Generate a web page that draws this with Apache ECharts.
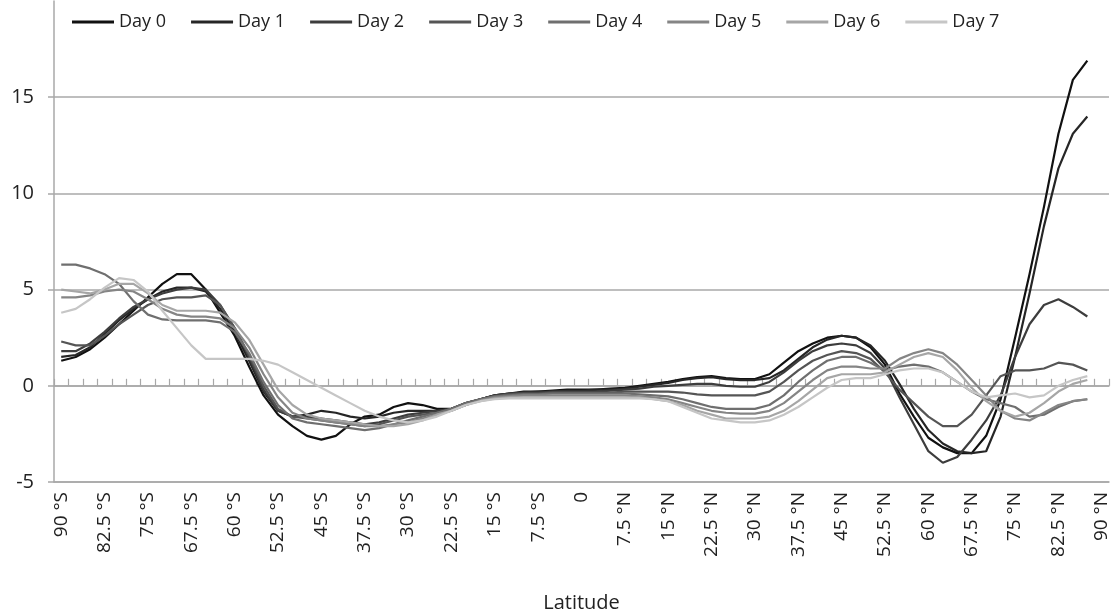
<!DOCTYPE html>
<html>
<head>
<meta charset="utf-8">
<script src="https://cdn.jsdelivr.net/npm/echarts@6/dist/echarts.min.js"></script>
<style>
html,body{margin:0;padding:0;background:#fff;}
#chart{width:1117px;height:612px;}
</style>
</head>
<body>
<div id="chart"></div>
<script>
const latitudes = [
"90 °S","87.5 °S","85 °S","82.5 °S","80 °S","77.5 °S","75 °S","72.5 °S","70 °S","67.5 °S","65 °S","62.5 °S",
"60 °S","57.5 °S","55 °S","52.5 °S","50 °S","47.5 °S","45 °S","42.5 °S","40 °S","37.5 °S","35 °S","32.5 °S",
"30 °S","27.5 °S","25 °S","22.5 °S","20 °S","17.5 °S","15 °S","12.5 °S","10 °S","7.5 °S","5 °S","2.5 °S",
"0","2.5 °N","5 °N","7.5 °N","10 °N","12.5 °N","15 °N","17.5 °N","20 °N","22.5 °N","25 °N","27.5 °N",
"30 °N","32.5 °N","35 °N","37.5 °N","40 °N","42.5 °N","45 °N","47.5 °N","50 °N","52.5 °N","55 °N","57.5 °N",
"60 °N","62.5 °N","65 °N","67.5 °N","70 °N","72.5 °N","75 °N","77.5 °N","80 °N","82.5 °N","85 °N","87.5 °N","90 °N"
];
const seriesNames = ["Day 0","Day 1","Day 2","Day 3","Day 4","Day 5","Day 6","Day 7"];
const yTicks = [-5, 0, 5, 10, 15, 20];

const day0 = [1.3,1.5,1.9,2.5,3.2,3.9,4.6,5.3,5.8,5.8,5.0,3.8,2.6,1.0,-0.5,-1.5,-2.1,-2.6,-2.8,-2.6,-2.0,-1.6,-1.5,-1.1,-0.9,-1.0,-1.2,-1.2,-1.0,-0.7,-0.5,-0.4,-0.3,-0.3,-0.25,-0.2,-0.2,-0.2,-0.15,-0.1,0,0.1,0.2,0.35,0.45,0.5,0.4,0.35,0.35,0.6,1.2,1.8,2.2,2.5,2.6,2.5,2.0,1.1,-0.4,-1.6,-2.7,-3.2,-3.5,-3.5,-2.6,-0.7,2.5,5.8,9.3,13.1,15.9,16.9,null];
const day1 = [1.5,1.6,2.0,2.7,3.4,4.0,4.5,4.9,5.1,5.1,4.9,4.0,2.8,1.3,-0.3,-1.3,-1.6,-1.5,-1.3,-1.4,-1.6,-1.7,-1.6,-1.4,-1.3,-1.3,-1.3,-1.2,-0.9,-0.7,-0.5,-0.4,-0.35,-0.3,-0.3,-0.25,-0.25,-0.2,-0.2,-0.15,-0.05,0.05,0.15,0.3,0.4,0.45,0.35,0.3,0.3,0.4,0.8,1.4,2.0,2.4,2.6,2.5,2.1,1.3,0.1,-1.2,-2.3,-3.0,-3.4,-3.5,-3.4,-1.6,1.5,4.8,8.3,11.3,13.1,14.0,null];
const day2 = [1.8,1.8,2.2,2.8,3.5,4.1,4.5,4.8,5.0,5.1,5.0,4.2,3.0,1.5,-0.2,-1.3,-1.6,-1.6,-1.7,-1.8,-1.9,-2.0,-1.9,-1.7,-1.5,-1.4,-1.3,-1.2,-0.9,-0.7,-0.5,-0.4,-0.35,-0.35,-0.3,-0.3,-0.3,-0.3,-0.25,-0.2,-0.15,-0.05,0.0,0.05,0.1,0.1,0.0,-0.05,-0.05,0.2,0.7,1.3,1.8,2.1,2.2,2.1,1.7,0.9,-0.6,-2.0,-3.4,-4.0,-3.7,-2.8,-1.8,-0.5,1.5,3.2,4.2,4.5,4.1,3.6,null];
const day3 = [2.3,2.1,2.1,2.6,3.2,3.7,4.2,4.5,4.6,4.6,4.7,4.2,3.0,1.6,0.0,-1.2,-1.6,-1.7,-1.8,-1.9,-2.0,-2.1,-2.0,-1.8,-1.6,-1.5,-1.4,-1.2,-0.9,-0.7,-0.55,-0.45,-0.4,-0.4,-0.35,-0.35,-0.35,-0.35,-0.35,-0.3,-0.3,-0.3,-0.3,-0.35,-0.45,-0.5,-0.5,-0.5,-0.5,-0.3,0.2,0.8,1.3,1.6,1.8,1.7,1.4,0.7,-0.2,-0.9,-1.6,-2.1,-2.1,-1.5,-0.5,0.5,0.8,0.8,0.9,1.2,1.1,0.8,null];
const day4 = [6.3,6.3,6.1,5.8,5.3,4.4,3.7,3.45,3.4,3.4,3.4,3.3,2.8,1.7,0.2,-1.0,-1.7,-1.9,-2.0,-2.1,-2.2,-2.3,-2.2,-2.0,-1.8,-1.6,-1.4,-1.2,-0.9,-0.7,-0.55,-0.5,-0.45,-0.45,-0.4,-0.4,-0.4,-0.4,-0.4,-0.4,-0.45,-0.5,-0.55,-0.7,-0.9,-1.1,-1.2,-1.2,-1.2,-1.0,-0.5,0.2,0.8,1.3,1.5,1.5,1.2,0.8,1.0,1.1,1.0,0.7,0.2,-0.3,-0.7,-0.9,-1.1,-1.6,-1.5,-1.1,-0.8,-0.7,null];
const day5 = [4.6,4.6,4.7,4.9,5.0,4.9,4.5,4.0,3.7,3.6,3.6,3.5,3.0,2.0,0.6,-0.6,-1.4,-1.7,-1.8,-1.9,-2.0,-2.1,-2.1,-2.0,-1.9,-1.7,-1.5,-1.3,-1.0,-0.75,-0.6,-0.55,-0.5,-0.5,-0.5,-0.5,-0.5,-0.5,-0.5,-0.5,-0.55,-0.6,-0.7,-0.9,-1.1,-1.3,-1.4,-1.45,-1.45,-1.3,-0.9,-0.3,0.3,0.8,1.0,1.0,0.9,0.9,1.4,1.7,1.9,1.7,1.1,0.3,-0.5,-1.3,-1.7,-1.8,-1.4,-1.0,-0.8,-0.7,null];
const day6 = [5.0,4.9,4.8,5.0,5.3,5.3,4.8,4.2,3.9,3.9,3.9,3.8,3.3,2.4,1.1,-0.2,-1.0,-1.5,-1.7,-1.8,-1.9,-2.0,-2.1,-2.1,-2.0,-1.8,-1.5,-1.3,-1.0,-0.8,-0.65,-0.6,-0.6,-0.6,-0.6,-0.6,-0.6,-0.6,-0.6,-0.6,-0.6,-0.7,-0.8,-1.0,-1.3,-1.5,-1.7,-1.7,-1.7,-1.6,-1.3,-0.8,-0.2,0.4,0.6,0.6,0.6,0.7,1.1,1.5,1.7,1.5,0.8,-0.1,-0.8,-1.3,-1.6,-1.4,-0.9,-0.3,0.1,0.3,null];
const day7 = [3.8,4.0,4.5,5.1,5.6,5.5,4.9,3.9,3.0,2.1,1.4,1.4,1.4,1.4,1.3,1.1,0.7,0.3,-0.1,-0.5,-0.9,-1.3,-1.6,-1.8,-1.9,-1.8,-1.6,-1.3,-1.0,-0.8,-0.7,-0.65,-0.65,-0.65,-0.65,-0.65,-0.65,-0.65,-0.65,-0.65,-0.65,-0.7,-0.8,-1.1,-1.4,-1.7,-1.8,-1.9,-1.9,-1.8,-1.5,-1.1,-0.6,-0.1,0.3,0.4,0.4,0.6,0.8,0.9,0.9,0.7,0.2,-0.3,-0.6,-0.5,-0.4,-0.6,-0.5,0.0,0.3,0.5,null];

const allDays = [day0, day1, day2, day3, day4, day5, day6, day7];
const colors = ["#111111","#262626","#3d3d3d","#555555","#6f6f6f","#858585","#a6a6a6","#c6c6c6"];

const FONT = "'Open Sans', 'Noto Sans', sans-serif";
const chart = echarts.init(document.getElementById('chart'), null, {renderer: 'canvas'});
const gridColor = '#a8a8a8';

chart.setOption({
  animation: false,
  backgroundColor: '#ffffff',
  color: colors,
  legend: {
    top: 8,
    left: 67,
    icon: 'rect',
    itemWidth: 42,
    itemHeight: 3,
    itemGap: 25,
    textStyle: {fontFamily: FONT, fontSize: 18, color: '#222'},
    data: seriesNames
  },
  grid: {left: 54, right: 8, top: 1, bottom: 130, containLabel: false, outerBoundsMode: 'none'},
  xAxis: [
    {
      type: 'category',
      data: latitudes,
      position: 'bottom',
      boundaryGap: true,
      name: 'Latitude',
      nameLocation: 'middle',
      nameGap: 111,
      nameTextStyle: {fontFamily: FONT, fontSize: 20, color: '#222'},
      axisLine: {show: true, onZero: false, lineStyle: {color: gridColor, width: 1.5}},
      axisTick: {show: false},
      axisLabel: {
        interval: 2,
        rotate: 90,
        margin: 10,
        fontFamily: FONT,
        fontSize: 19,
        color: '#222'
      },
      splitLine: {show: false}
    },
    {
      type: 'category',
      data: latitudes,
      position: 'top',
      boundaryGap: true,
      axisLine: {show: true, onZero: true, lineStyle: {color: gridColor, width: 1.5}},
      axisTick: {show: true, length: 7, interval: 0, lineStyle: {color: gridColor, width: 1.2}},
      axisLabel: {show: false},
      splitLine: {show: false}
    }
  ],
  yAxis: {
    type: 'value',
    min: yTicks[0],
    max: yTicks[yTicks.length - 1],
    interval: 5,
    axisLine: {show: true, lineStyle: {color: gridColor, width: 1.5}},
    axisTick: {show: true, length: 6, lineStyle: {color: gridColor, width: 1.5}},
    axisLabel: {
      showMaxLabel: false,
      margin: 20,
      fontFamily: FONT,
      fontSize: 20,
      color: '#222'
    },
    splitLine: {show: true, lineStyle: {color: [gridColor, gridColor, gridColor, gridColor, gridColor, 'rgba(0,0,0,0)'], width: 1.5}}
  },
  series: seriesNames.map((name, k) => ({
    name: name,
    type: 'line',
    xAxisIndex: 0,
    data: allDays[k],
    showSymbol: false,
    symbol: 'none',
    smooth: false,
    connectNulls: false,
    lineStyle: {width: 2.2, color: colors[k]},
    itemStyle: {color: colors[k]}
  }))
});
</script>
</body>
</html>
